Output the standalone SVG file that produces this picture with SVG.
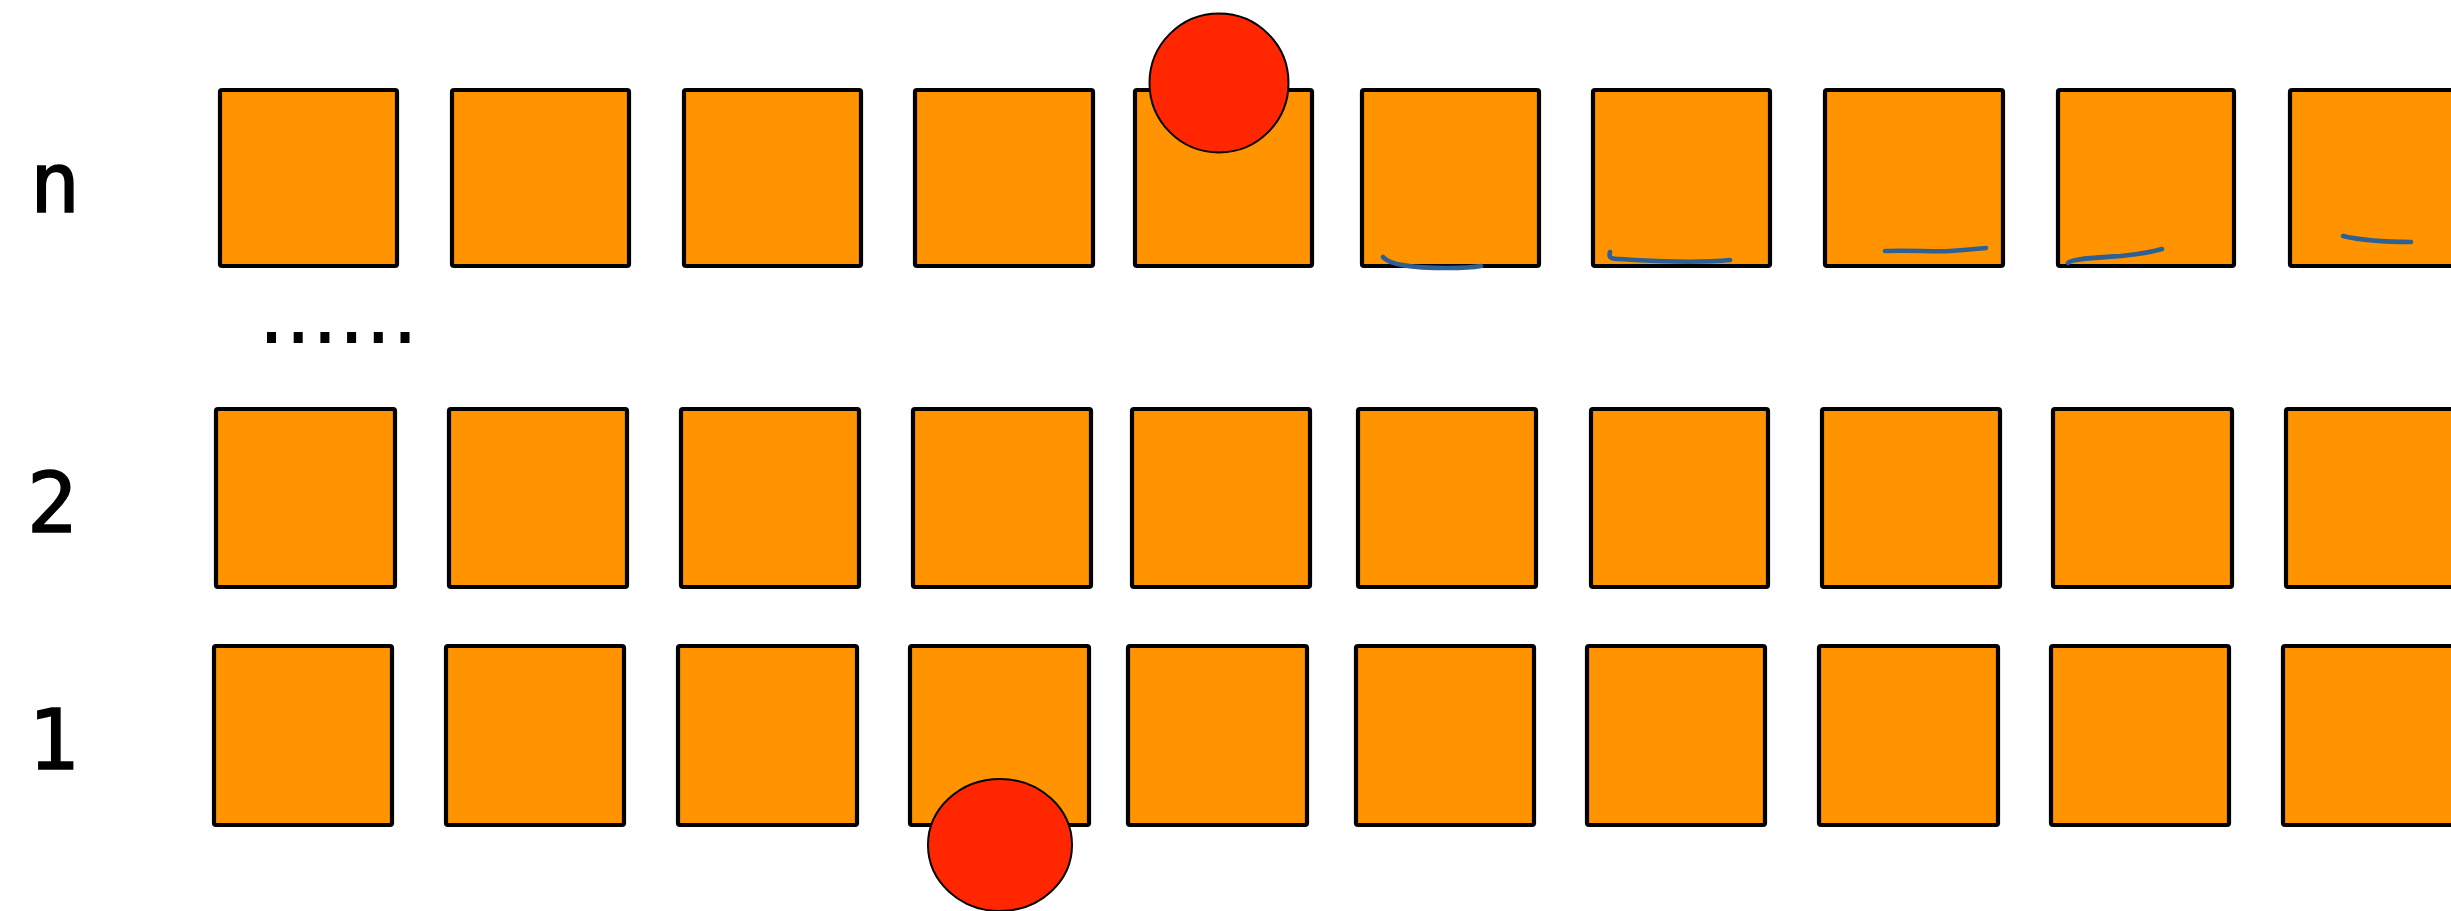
<svg xmlns="http://www.w3.org/2000/svg" width="2451" height="911" viewBox="0 0 2451 911">
<style>
.box{fill:#FF9300;stroke:#000;stroke-width:4.2;stroke-linejoin:round}
.ball{fill:#FF2600;stroke:#000;stroke-width:2}
.lbl{font-family:"DejaVu Sans Mono",monospace;font-size:84px;fill:#000;stroke:#000;stroke-width:1.5;text-anchor:middle}
.ink{fill:none;stroke:#2F6094;stroke-width:4.6;stroke-linecap:round;stroke-linejoin:round}
</style>
<rect width="2451" height="911" fill="#fff"/>
<g id="labels">
<text class="lbl" x="55" y="212">n</text>
<text class="lbl" x="52" y="532">2</text>
<text class="lbl" x="53" y="769">1</text>
</g>
<g id="ellipsis">
<line x1="267" y1="337.5" x2="410" y2="337.5" stroke="#000" stroke-width="11" stroke-dasharray="9 17.7"/>
</g>
<g id="row-n">
<rect class="box" x="220" y="90" width="177" height="176" rx="2"/>
<rect class="box" x="452" y="90" width="177" height="176" rx="2"/>
<rect class="box" x="684" y="90" width="177" height="176" rx="2"/>
<rect class="box" x="915" y="90" width="178" height="176" rx="2"/>
<rect class="box" x="1135" y="90" width="177" height="176" rx="2"/>
<rect class="box" x="1362" y="90" width="177" height="176" rx="2"/>
<rect class="box" x="1593" y="90" width="177" height="176" rx="2"/>
<rect class="box" x="1825" y="90" width="178" height="176" rx="2"/>
<rect class="box" x="2058" y="90" width="176" height="176" rx="2"/>
<rect class="box" x="2290" y="90" width="177" height="176" rx="2"/>
</g>
<g id="row-2">
<rect class="box" x="216" y="409" width="179" height="178" rx="2"/>
<rect class="box" x="449" y="409" width="178" height="178" rx="2"/>
<rect class="box" x="681" y="409" width="178" height="178" rx="2"/>
<rect class="box" x="913" y="409" width="178" height="178" rx="2"/>
<rect class="box" x="1132" y="409" width="178" height="178" rx="2"/>
<rect class="box" x="1358" y="409" width="178" height="178" rx="2"/>
<rect class="box" x="1591" y="409" width="177" height="178" rx="2"/>
<rect class="box" x="1822" y="409" width="178" height="178" rx="2"/>
<rect class="box" x="2053" y="409" width="179" height="178" rx="2"/>
<rect class="box" x="2286" y="409" width="178" height="178" rx="2"/>
</g>
<g id="row-1">
<rect class="box" x="214" y="646" width="178" height="179" rx="2"/>
<rect class="box" x="446" y="646" width="178" height="179" rx="2"/>
<rect class="box" x="678" y="646" width="179" height="179" rx="2"/>
<rect class="box" x="910" y="646" width="179" height="179" rx="2"/>
<rect class="box" x="1128" y="646" width="179" height="179" rx="2"/>
<rect class="box" x="1356" y="646" width="178" height="179" rx="2"/>
<rect class="box" x="1587" y="646" width="178" height="179" rx="2"/>
<rect class="box" x="1819" y="646" width="179" height="179" rx="2"/>
<rect class="box" x="2051" y="646" width="178" height="179" rx="2"/>
<rect class="box" x="2283" y="646" width="178" height="179" rx="2"/>
</g>
<g id="ball-top">
<circle class="ball" cx="1219" cy="83" r="69.5"/>
</g>
<g id="ball-bottom">
<ellipse class="ball" cx="1000" cy="845" rx="72" ry="66"/>
</g>
<g id="connectors">
<path class="ink" d="M1383,257 C1390,266 1420,268 1448,268 C1465,268 1475,267 1481,266"/>
<path class="ink" d="M1610,252 C1608,258 1612,259 1620,259 C1650,261 1700,263 1730,260"/>
<path class="ink" d="M1885,251 C1910,250 1935,252 1950,251 C1965,250 1975,249 1986,248"/>
<path class="ink" d="M2068,263 C2070,259 2090,258 2121,256 C2140,254 2152,252 2162,249"/>
<path class="ink" d="M2343,236 C2360,240 2385,242 2411,242"/>
</g>
</svg>
